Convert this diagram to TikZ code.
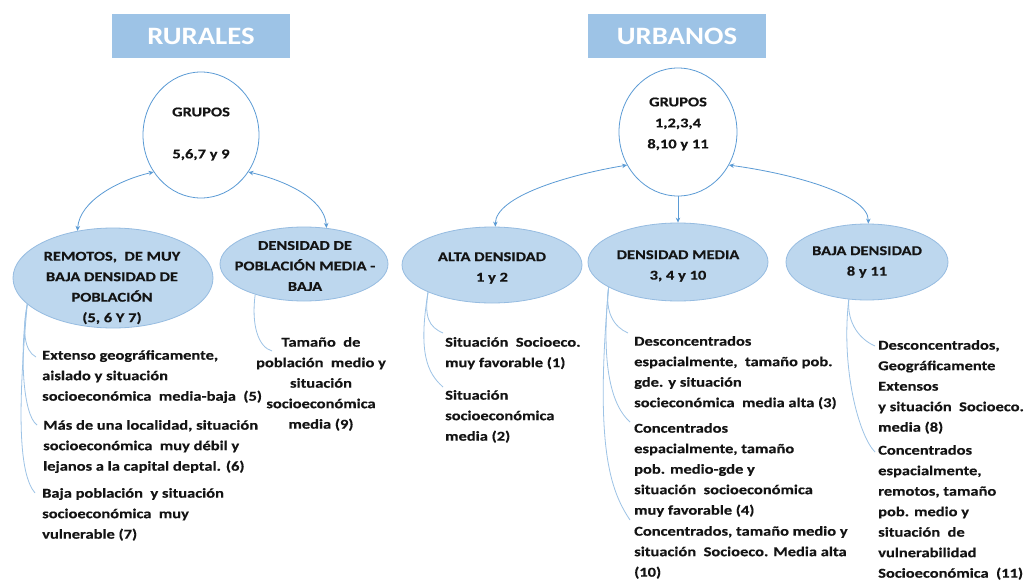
\documentclass[tikz,border=0pt]{standalone}
\usepackage{fontspec}
\newfontfamily\cf{Carlito}[FakeStretch=1.22,FakeBold=0.4]
\newfontfamily\ctitle{Carlito}[FakeStretch=1.15]
\usetikzlibrary{shapes.geometric,arrows.meta,calc}
\definecolor{titleblue}{RGB}{157,195,230}
\definecolor{ellfill}{RGB}{189,215,238}
\definecolor{elldraw}{RGB}{150,188,225}
\definecolor{arrblue}{RGB}{91,155,213}
\definecolor{connblue}{RGB}{157,195,230}
\definecolor{txt}{RGB}{20,20,20}
\begin{document}
\begin{tikzpicture}[x=1pt,y=-1pt,
  titlebox/.style={fill=titleblue,draw=none,minimum width=178pt,minimum height=44pt,inner sep=0pt,text=white,font=\ctitle\bfseries\fontsize{25}{28}\selectfont},
  grp/.style={ellipse,draw=arrblue,line width=0.8pt,fill=white,inner sep=0pt},
  bell/.style={ellipse,draw=elldraw,line width=0.8pt,fill=ellfill,inner sep=0pt},
  etext/.style={align=center,inner sep=0pt,text=txt,font=\cf\bfseries\fontsize{13.5}{20.5}\selectfont},
  gtext/.style={align=center,inner sep=0pt,text=txt,font=\cf\bfseries\fontsize{13.5}{21}\selectfont},
  item/.style={anchor=north west,align=left,inner sep=0pt,text=txt,font=\cf\bfseries\fontsize{13.5}{20.5}\selectfont},
  citem/.style={anchor=north,align=center,inner sep=0pt,text=txt,font=\cf\bfseries\fontsize{13.5}{20.5}\selectfont},
  conn/.style={draw=connblue,line width=0.8pt},
  arr/.style={draw=arrblue,line width=0.8pt,{Stealth[length=5pt,width=4.5pt]}-{Stealth[length=5pt,width=4.5pt]}},
  arr1/.style={draw=arrblue,line width=0.8pt,-{Stealth[length=5pt,width=4.5pt]}}
]
\useasboundingbox (0,0) rectangle (1026,581);
\fill[white] (0,0) rectangle (1026,581);

% titles
\node[titlebox] (tr) at (201,36) {RURALES};
\node[titlebox] (tu) at (677,36) {URBANOS};

% group ellipses
\node[grp,minimum width=116pt,minimum height=126pt] (rg) at (201,135) {};
\node[gtext] (rgt) at (201,134) {GRUPOS\\[21pt]5,6,7 y 9};
\node[grp,minimum width=118pt,minimum height=128pt] (ug) at (678,132) {};
\node[gtext] (ugt) at (678,124) {GRUPOS\\1,2,3,4\\8,10 y 11};

% blue ellipses
\node[bell,minimum width=200pt,minimum height=100pt] (rem) at (113,278) {};
\node[etext] (remt) at (112,288) {REMOTOS,\ \ DE MUY\\BAJA DENSIDAD DE\\POBLACIÓN\\(5, 6 Y 7)};
\node[bell,minimum width=168pt,minimum height=74pt] (dmb) at (304,264) {};
\node[etext] (dmbt) at (305,266) {DENSIDAD DE\\POBLACIÓN MEDIA -\\BAJA};
\node[bell,minimum width=180pt,minimum height=76pt] (alta) at (492,265) {};
\node[etext] (altat) at (492,268) {ALTA DENSIDAD\\1 y 2};
\node[bell,minimum width=180pt,minimum height=78pt] (dmed) at (678,262) {};
\node[etext] (dmedt) at (678,266) {DENSIDAD MEDIA\\3, 4 y 10};
\node[bell,minimum width=162pt,minimum height=76pt] (baja) at (867,262) {};
\node[etext] (bajat) at (867,262) {BAJA DENSIDAD\\8 y 11};

% arrows
\draw[arr] (rem.127) .. controls +(2,-30) and +(-35,8) .. (rg.218);
\draw[arr] (rg.322) .. controls +(35,8) and +(-2,-30) .. (dmb.58);
\draw[arr] (alta.85) .. controls +(0,-30) and +(-60,10) .. (ug.213);
\draw[arr] (ug.327) .. controls +(60,8) and +(0,-30) .. (baja.88);
\draw[arr1] (ug.south) -- (dmed.north);

% items
\node[item] (r1) at (42,350) {Extenso geográficamente,\\aislado y situación\\socioeconómica\ \ media-baja\ \ (5)};
\node[item] (r2) at (43,420) {Más de una localidad, situación\\socioeconómica\ \ muy débil y\\lejanos a la capital deptal. (6)};
\node[item] (r3) at (42,488) {Baja población\ \ y situación\\socioeconómica\ \ muy\\vulnerable (7)};
\node[citem] (t9) at (321,337) {Tamaño\ \ de\\población\ \ medio y\\situación\\socioeconómica\\media (9)};
\node[item] (a1) at (445,337) {Situación\ \ Socioeco.\\muy favorable (1)};
\node[item] (a2) at (445,390) {Situación\\socioeconómica\\media (2)};
\node[item] (d3) at (634,336) {Desconcentrados\\espacialmente,\ \ tamaño pob.\\gde. y situación\\socieconómica\ \ media alta (3)};
\node[item] (d4) at (634,423) {Concentrados\\espacialmente, tamaño\\pob. medio-gde y\\situación\ \ socioeconómica\\muy favorable (4)};
\node[item] (d10) at (634,526) {Concentrados, tamaño medio y\\situación\ \ Socioeco. Media alta\\(10)};
\node[item] (b8) at (878,340) {Desconcentrados,\\Geográficamente\\Extensos\\y situación\ \ Socioeco.\\media (8)};
\node[item] (b11) at (878,445) {Concentrados\\espacialmente,\\remotos, tamaño\\pob. medio y\\situación\ \ de\\vulnerabilidad\\Socioeconómica\ \ (11)};

% connectors
\draw[conn] (rem.197) .. controls +(-5,25) and +(-12,-6) .. ($(r1.north west)+(-6,7)$);
\draw[conn] (rem.197) .. controls +(-8,50) and +(-14,-10) .. ($(r2.north west)+(-6,5)$);
\draw[conn] (rem.197) .. controls +(-10,110) and +(-16,-19) .. ($(r3.north west)+(-7,5)$);
\draw[conn] (dmb.212) .. controls +(-4,30) and +(-14,-4) .. ($(t9.north)+(-49,14)$);
\draw[conn] (alta.203) .. controls +(-4,25) and +(-14,-6) .. ($(a1.north west)+(-2,-4)$);
\draw[conn] (alta.203) .. controls +(-10,60) and +(-16,-14) .. ($(a2.north west)+(-2,-3)$);
\draw[conn] (dmed.200) .. controls +(-4,25) and +(-14,-6) .. ($(d3.north west)+(-6,-3)$);
\draw[conn] (dmed.200) .. controls +(-8,80) and +(-18,-16) .. ($(d4.north west)+(-4,-1)$);
\draw[conn] (dmed.200) .. controls +(-14,160) and +(-20,-30) .. ($(d10.north west)+(-4,-6)$);
\draw[conn] (baja.244) .. controls +(-2,25) and +(-14,-6) .. ($(b8.north west)+(-3,6)$);
\draw[conn] (baja.244) .. controls +(-8,70) and +(-16,-16) .. ($(b11.north west)+(-3,7)$);
\end{tikzpicture}
\end{document}
